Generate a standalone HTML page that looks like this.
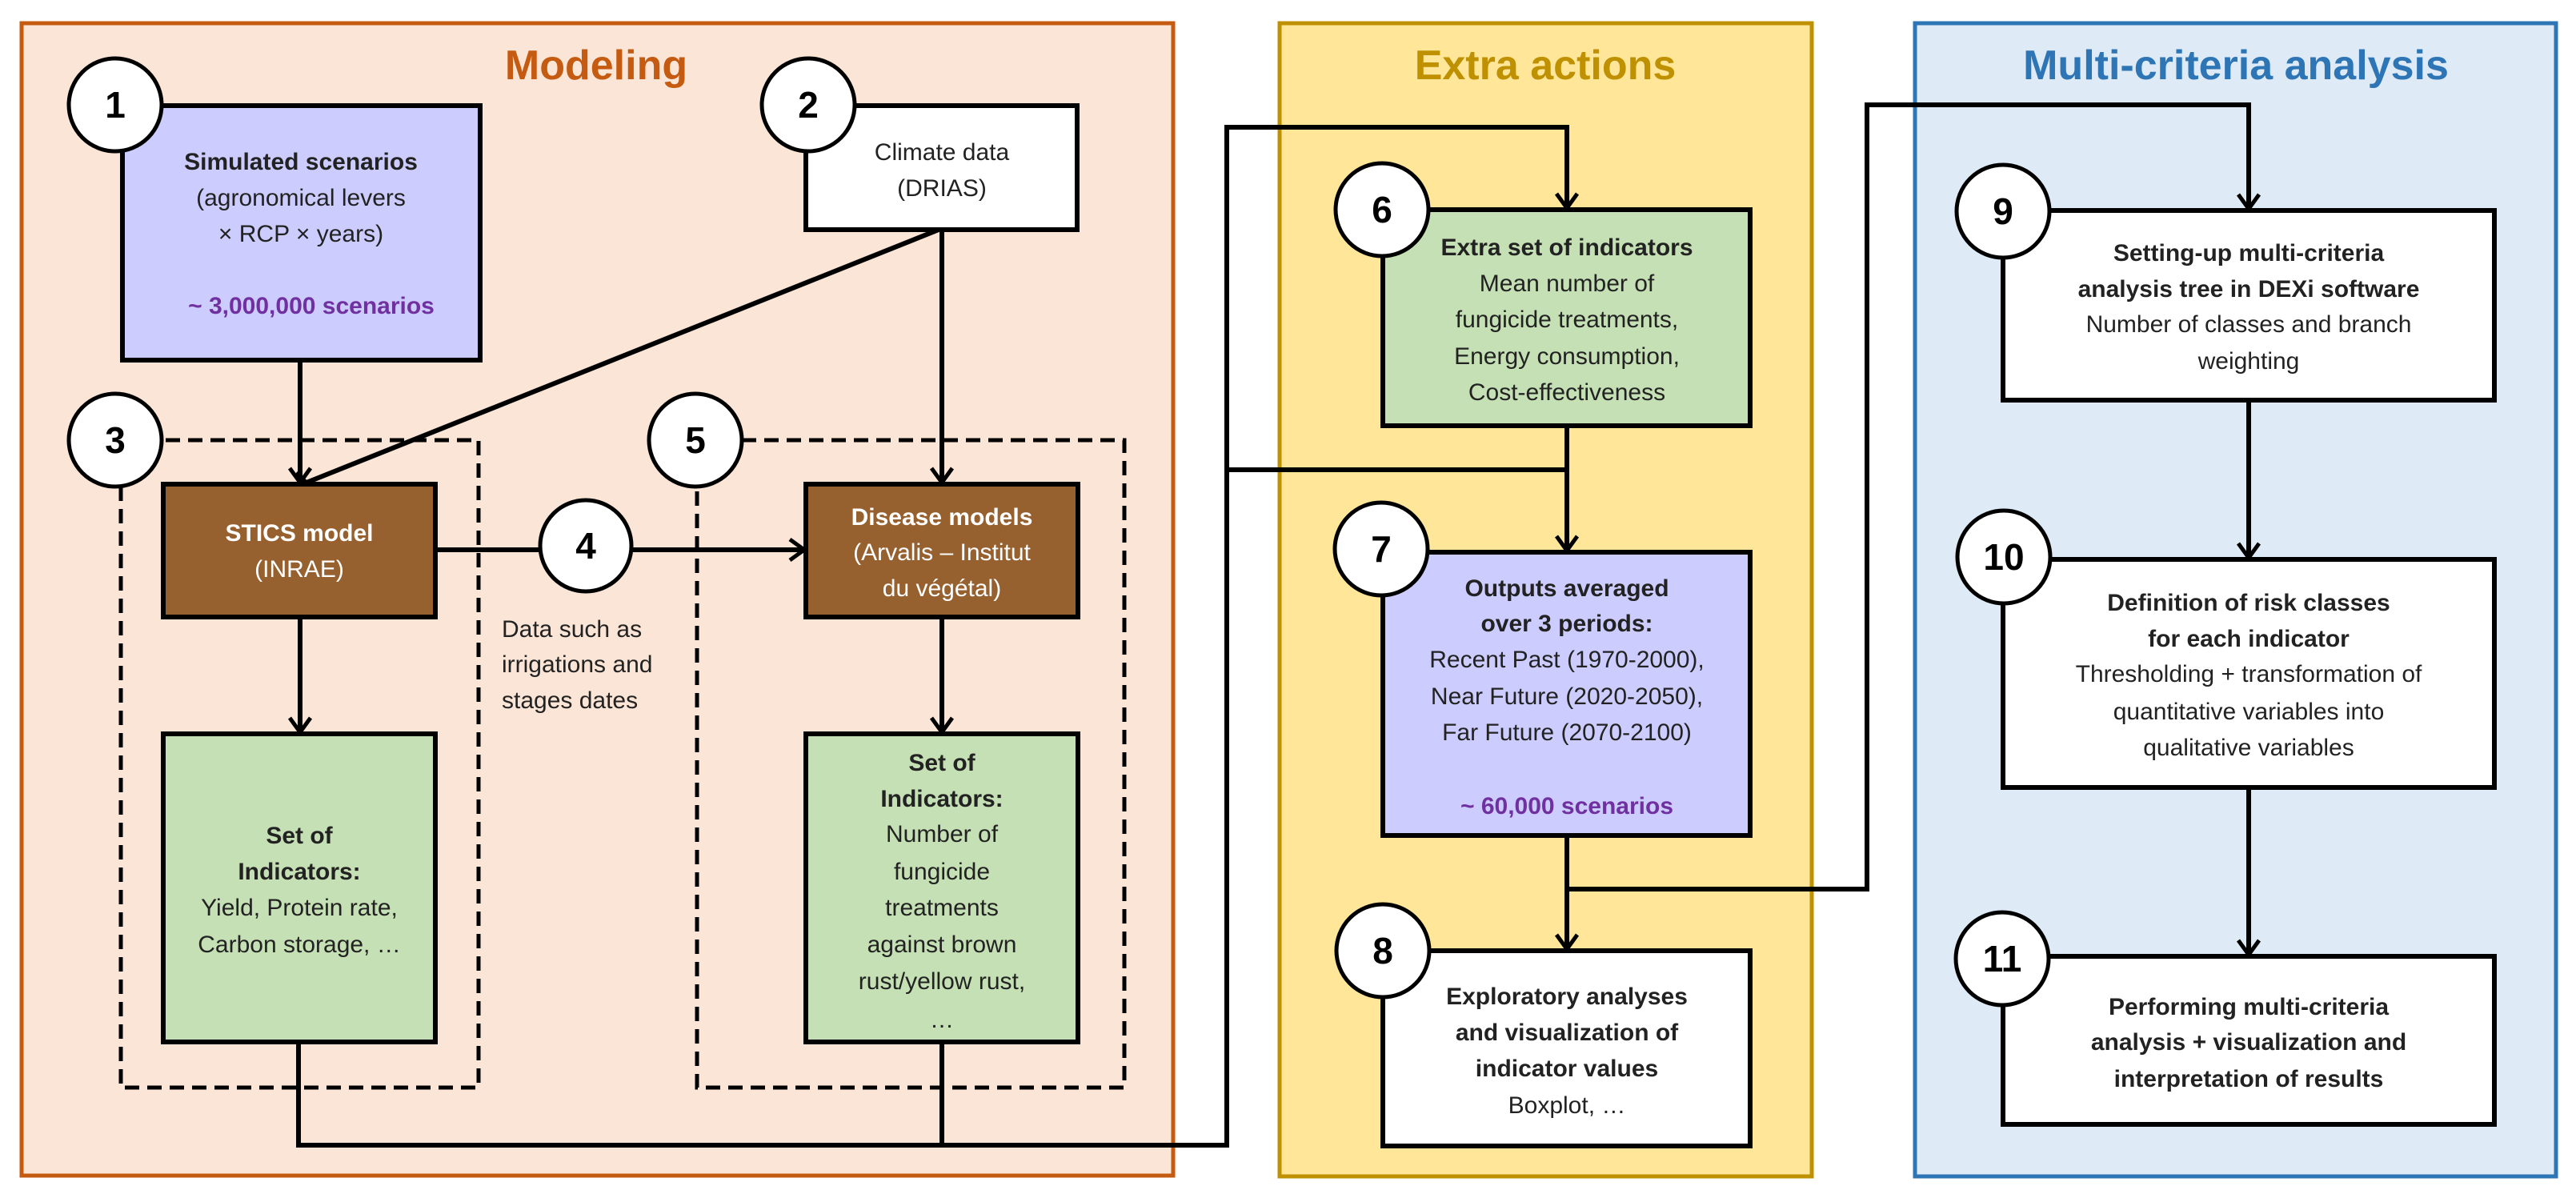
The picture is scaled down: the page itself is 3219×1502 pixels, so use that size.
<!DOCTYPE html>
<html><head><meta charset="utf-8"><style>
html,body{margin:0;padding:0;background:#fff;}
svg{display:block;}
text{font-family:"Liberation Sans",Arial,sans-serif;font-size:30px;fill:#222;text-anchor:middle;}
.b{font-weight:bold;}
.w{fill:#fff;}
.p{fill:#7030A0;font-weight:bold;}
.n{font-size:46px;font-weight:bold;fill:#000;}
.t{font-size:52px;font-weight:bold;}
</style></head><body>
<svg width="3219" height="1502" viewBox="0 0 3219 1502" xmlns="http://www.w3.org/2000/svg">
<defs>
<marker id="a" markerWidth="14" markerHeight="14" refX="12" refY="7" orient="auto" markerUnits="userSpaceOnUse" viewBox="0 0 14 14">
</marker>
</defs>
<!-- panels -->
<rect x="27" y="29" width="1439" height="1440" fill="#FBE5D6" stroke="#C55A11" stroke-width="5"/>
<rect x="1599" y="29" width="665" height="1441" fill="#FFE699" stroke="#BF9000" stroke-width="5"/>
<rect x="2393" y="29" width="801" height="1441" fill="#DEEBF7" stroke="#2E75B6" stroke-width="5"/>
<text x="745" y="99" class="t" style="fill:#C55A11">Modeling</text>
<text x="1931" y="99" class="t" style="fill:#BF9000">Extra actions</text>
<text x="2794" y="99" class="t" style="fill:#2E75B6">Multi-criteria analysis</text>

<!-- dashed boxes -->
<rect x="151" y="550" width="447" height="809" fill="none" stroke="#000" stroke-width="5" stroke-dasharray="18,10"/>
<rect x="871" y="550" width="534" height="809" fill="none" stroke="#000" stroke-width="5" stroke-dasharray="18,10"/>

<g stroke="#000" stroke-width="6" fill="none">
<!-- connectors -->
<line x1="375" y1="450" x2="375" y2="603"/>
<line x1="1173" y1="287" x2="383" y2="603"/>
<line x1="1177" y1="287" x2="1177" y2="603"/>
<line x1="544" y1="687" x2="1005" y2="687"/>
<line x1="375" y1="771" x2="375" y2="915"/>
<line x1="1177" y1="771" x2="1177" y2="915"/>
<polyline points="373,1302 373,1431 1533,1431 1533,159 1958,159 1958,260"/>
<polyline points="1533,587 1958,587"/>
<line x1="1958" y1="532" x2="1958" y2="688"/>
<line x1="1958" y1="1044" x2="1958" y2="1186"/>
<polyline points="1958,1111 2333,1111 2333,131 2810,131 2810,261"/>
<line x1="1177" y1="1302" x2="1177" y2="1431"/>
<line x1="2810" y1="500" x2="2810" y2="697"/>
<line x1="2810" y1="984" x2="2810" y2="1193"/>
<!-- arrowheads -->
<g stroke-width="5">
<polyline points="362,585 375,603 388,585"/>
<polyline points="1164,585 1177,603 1190,585"/>
<polyline points="987,674 1005,687 987,700"/>
<polyline points="362,897 375,915 388,897"/>
<polyline points="1164,897 1177,915 1190,897"/>
<polyline points="1945,242 1958,260 1971,242"/>
<polyline points="1945,670 1958,688 1971,670"/>
<polyline points="1945,1168 1958,1186 1971,1168"/>
<polyline points="2797,243 2810,261 2823,243"/>
<polyline points="2797,679 2810,697 2823,679"/>
<polyline points="2797,1175 2810,1193 2823,1175"/>
<polyline points="370,591 383,603 366,608"/>
</g>
</g>

<!-- boxes -->
<g stroke="#000" stroke-width="6">
<rect x="153" y="132" width="447" height="318" fill="#CCCCFF"/>
<rect x="1007" y="132" width="339" height="155" fill="#fff"/>
<rect x="204" y="605" width="340" height="166" fill="#97602F"/>
<rect x="1007" y="605" width="340" height="166" fill="#97602F"/>
<rect x="204" y="917" width="340" height="385" fill="#C5E0B4"/>
<rect x="1007" y="917" width="340" height="385" fill="#C5E0B4"/>
<rect x="1728" y="262" width="459" height="270" fill="#C5E0B4"/>
<rect x="1728" y="690" width="459" height="354" fill="#CCCCFF"/>
<rect x="1728" y="1188" width="459" height="244" fill="#fff"/>
<rect x="2503" y="263" width="614" height="237" fill="#fff"/>
<rect x="2503" y="699" width="614" height="285" fill="#fff"/>
<rect x="2503" y="1195" width="614" height="210" fill="#fff"/>
</g>

<!-- circles -->
<g stroke="#000" stroke-width="5" fill="#fff">
<circle cx="144" cy="131" r="58"/>
<circle cx="1010" cy="131" r="58"/>
<circle cx="144" cy="550" r="58"/>
<circle cx="732" cy="682" r="57"/>
<circle cx="869" cy="550" r="58"/>
<circle cx="1727" cy="262" r="58"/>
<circle cx="1726" cy="686" r="58"/>
<circle cx="1728" cy="1188" r="58"/>
<circle cx="2503" cy="264" r="58"/>
<circle cx="2504" cy="696" r="58"/>
<circle cx="2502" cy="1198" r="58"/>
</g>
<g class="n">
<text class="n" x="144" y="147">1</text>
<text class="n" x="1010" y="147">2</text>
<text class="n" x="144" y="566">3</text>
<text class="n" x="732" y="698">4</text>
<text class="n" x="869" y="566">5</text>
<text class="n" x="1727" y="278">6</text>
<text class="n" x="1726" y="702">7</text>
<text class="n" x="1728" y="1204">8</text>
<text class="n" x="2503" y="280">9</text>
<text class="n" x="2504" y="712">10</text>
<text class="n" x="2502" y="1214">11</text>
</g>

<!-- texts -->
<text x="376" y="212" class="b">Simulated scenarios</text>
<text x="376" y="257">(agronomical levers</text>
<text x="376" y="302">× RCP × years)</text>
<text x="389" y="392" class="p">~ 3,000,000 scenarios</text>

<text x="1177" y="200">Climate data</text>
<text x="1177" y="245">(DRIAS)</text>

<text x="374" y="676" class="b w">STICS model</text>
<text x="374" y="721" class="w">(INRAE)</text>

<text x="1177" y="656" class="b w">Disease models</text>
<text x="1177" y="700" class="w">(Arvalis – Institut</text>
<text x="1177" y="745" class="w">du végétal)</text>

<text x="627" y="796" style="text-anchor:start">Data such as</text>
<text x="627" y="840" style="text-anchor:start">irrigations and</text>
<text x="627" y="885" style="text-anchor:start">stages dates</text>

<text x="374" y="1054" class="b">Set of</text>
<text x="374" y="1099" class="b">Indicators:</text>
<text x="374" y="1144">Yield, Protein rate,</text>
<text x="374" y="1190">Carbon storage, …</text>

<text x="1177" y="963" class="b">Set of</text>
<text x="1177" y="1008" class="b">Indicators:</text>
<text x="1177" y="1052">Number of</text>
<text x="1177" y="1099">fungicide</text>
<text x="1177" y="1144">treatments</text>
<text x="1177" y="1190">against brown</text>
<text x="1177" y="1236">rust/yellow rust,</text>
<text x="1177" y="1284">…</text>

<text x="1958" y="319" class="b">Extra set of indicators</text>
<text x="1958" y="364">Mean number of</text>
<text x="1958" y="409">fungicide treatments,</text>
<text x="1958" y="455">Energy consumption,</text>
<text x="1958" y="500">Cost-effectiveness</text>

<text x="1958" y="745" class="b">Outputs averaged</text>
<text x="1958" y="789" class="b">over 3 periods:</text>
<text x="1958" y="834">Recent Past (1970-2000),</text>
<text x="1958" y="880">Near Future (2020-2050),</text>
<text x="1958" y="925">Far Future (2070-2100)</text>
<text x="1958" y="1017" class="p">~ 60,000 scenarios</text>

<text x="1958" y="1255" class="b">Exploratory analyses</text>
<text x="1958" y="1300" class="b">and visualization of</text>
<text x="1958" y="1345" class="b">indicator values</text>
<text x="1958" y="1391">Boxplot, …</text>

<text x="2810" y="326" class="b">Setting-up multi-criteria</text>
<text x="2810" y="371" class="b">analysis tree in DEXi software</text>
<text x="2810" y="415">Number of classes and branch</text>
<text x="2810" y="461">weighting</text>

<text x="2810" y="763" class="b">Definition of risk classes</text>
<text x="2810" y="808" class="b">for each indicator</text>
<text x="2810" y="852">Thresholding + transformation of</text>
<text x="2810" y="899">quantitative variables into</text>
<text x="2810" y="944">qualitative variables</text>

<text x="2810" y="1268" class="b">Performing multi-criteria</text>
<text x="2810" y="1312" class="b">analysis + visualization and</text>
<text x="2810" y="1358" class="b">interpretation of results</text>
</svg>
</body></html>
